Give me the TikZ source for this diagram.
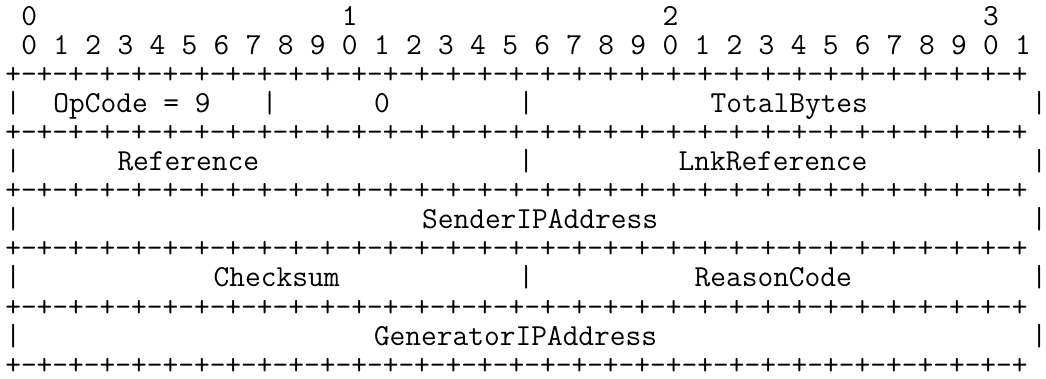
\documentclass[tikz,border=0pt]{standalone}
\usepackage{fontspec}

\tikzset{
  chr/.style={anchor=base west, inner sep=0pt, outer sep=0pt,
    font=\ttfamily\fontsize{15.27pt}{16pt}\selectfont},
}
\newcommand{\pktoctet}{-+-+-+-+-+-+-+-+}
\newcommand{\pktborder}{+\pktoctet\pktoctet\pktoctet\pktoctet}

\begin{document}
\begin{tikzpicture}[x=8.015pt, y=-14.55pt]
\useasboundingbox (0,0) rectangle (65.25,12.99);
% bit numbers
\foreach \t in {0,...,3}
  \node[chr] (ten\t) at ({20*\t+1.33},0.86) {\t};
\foreach \b [evaluate=\b as \u using {int(mod(\b,10))}] in {0,...,31}
  \node[chr] (bit\b) at ({2*\b+1.33},1.86) {\u};
% borders
\foreach \r in {0,...,5}
  \node[chr] (line\r) at (0.33,{2*\r+2.86}) {\pktborder};
% field separators
\foreach \c/\r in {0/1,16/1,32/1,64/1, 0/2,32/2,64/2, 0/3,64/3,
                   0/4,32/4,64/4, 0/5,64/5}
  \node[chr] (bar\r-\c) at ({\c+0.33},{2*\r+1.86}) {|};
% fields
\node[chr] (opcode) at (3.33,3.86) {OpCode = 9};
\node[chr] (zero) at (23.33,3.86) {0};
\node[chr] (totalbytes) at (44.33,3.86) {TotalBytes};
\node[chr] (reference) at (7.33,5.86) {Reference};
\node[chr] (lnkref) at (42.33,5.86) {LnkReference};
\node[chr] (senderip) at (26.33,7.86) {SenderIPAddress};
\node[chr] (checksum) at (13.33,9.86) {Checksum};
\node[chr] (reasoncode) at (43.33,9.86) {ReasonCode};
\node[chr] (genip) at (23.33,11.86) {GeneratorIPAddress};
\end{tikzpicture}
\end{document}
